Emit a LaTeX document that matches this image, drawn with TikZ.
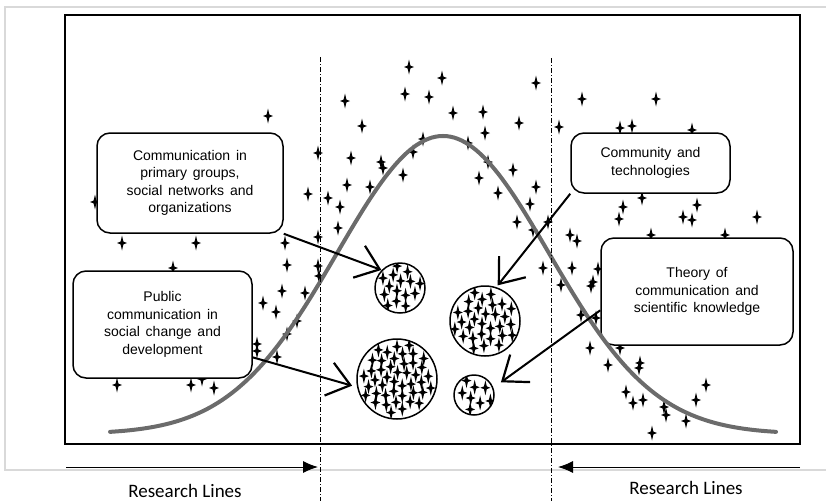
\documentclass[tikz,border=0pt]{standalone}
\usepackage{fontspec}
\usepackage{tikz}
\usetikzlibrary{arrows.meta,positioning}
\newfontfamily\boxfont{Liberation Sans}[WordSpace={1.5}]
\newfontfamily\linefont{Carlito}

\begin{document}
\begin{tikzpicture}[
    x=1pt, y=-1pt,
    topic/.style={rectangle, rounded corners=13pt, draw, line width=1.5pt, fill=white, align=center, font=\boxfont\fontsize{14}{17.5}\selectfont},
    grp/.style={circle, draw, line width=1.5pt, inner sep=0pt, outer sep=0pt},
    barb/.style={-{Straight Barb[length=22pt,width=34pt,line width=2.2pt]}, line width=2pt},
    lineaxis/.style={-{Latex[length=15pt,width=12pt]}, line width=1pt},
    divider/.style={line width=0.8pt, dash pattern=on 5pt off 2pt on 1pt off 2pt},
    spark/.pic={\fill (0,-7.5) -- (1.4,-1.4) -- (5,0) -- (1.4,1.4) -- (0,7.5) -- (-1.4,1.4) -- (-5,0) -- (-1.4,-1.4) -- cycle;}
]
\useasboundingbox (0,0) rectangle (826,501);

% Frames
\draw[black!15, line width=1.5pt] (5,7) rectangle (840,470);
\draw[line width=2pt] (65,15) rectangle (800,444);

% Scattered stars
\foreach \p in {(95,202),(122,243),(196,243),(285,243),(268,116),(117,385),(191,385),(202,379),(214,388),(173,268),
    (318,153),(308,194),(318,237),(287,265),(318,266),(319,276),(282,291),(305,293),(263,303),(276,312),
    (297,321),(287,334),(257,344),(257,351),(277,357),(338,228),
    (345,101),(362,126),(409,67),(405,94),(442,78),(429,97),(453,113),(483,112),(536,83),(519,123),
    (485,133),(423,139),(468,143),(413,152),(351,158),(381,162),(383,168),(403,175),(347,185),(370,187),
    (328,198),(340,207),(488,162),(513,170),(479,178),(536,187),(498,193),(530,204),(517,222),(533,230),(543,268),
    (559,127),(582,99),(656,99),(632,126),(620,128),(692,130),(548,222),(570,235),(577,241),(623,207),
    (619,219),(642,198),(697,205),(683,217),(692,220),(757,217),(651,235),(725,235),(572,268),(598,269),
    (561,285),(593,282),(591,286),(581,315),(596,318),(590,348),(620,348),(608,365),(640,363),(639,368),
    (626,392),(633,403),(643,400),(664,407),(666,415),(686,421),(696,400),(706,385),(652,433)}
    \pic at \p {spark};

% Research topics
\node[topic, minimum width=186pt, minimum height=100pt] (prim) at (190,183)
    {Communication in\\primary groups,\\social networks and\\organizations};
\node[topic, minimum width=179pt, minimum height=107pt] (pub) at (162.5,324.5)
    {Public\\communication in\\social change and\\development};
\node[topic, minimum width=159pt, minimum height=60pt] (comt) at (650.5,163)
    {Community and\\technologies};
\node[topic, minimum width=192pt, minimum height=107pt] (theo) at (697,291.5)
    {Theory of\\communication and\\scientific knowledge};

% Bell curve
\draw[black!58, line width=4pt, line cap=round] plot[domain=110:776, samples=90, smooth]
    (\x, {434-298*exp(-0.5*((\x-443)/106)^2)});

% Groups of stars
\foreach \nm/\cx/\cy/\r/\n in {grpA/400/288/25/15, grpB/485/321/35/30, grpC/397/379/40/44, grpD/474/395/20/8} {
    \begin{scope}
        \clip (\cx,\cy) circle (\r pt);
        \foreach \i in {1,...,\n} {
            \pgfmathsetmacro\rr{0.9*\r*sqrt((\i-0.5)/\n)}
            \pgfmathsetmacro\px{\cx+\rr*cos(\i*137.5)}
            \pgfmathsetmacro\py{\cy+\rr*sin(\i*137.5)}
            \pic at (\px,\py) {spark};
        }
    \end{scope}
    \node[grp, minimum size={2*\r pt}] (\nm) at (\cx,\cy) {};
}

% Arrows
\draw[barb, shorten >=1pt] (prim.south east) -- (grpA.135);
\draw[barb, shorten >=6pt] (pub.-20) -- (grpC.192);
\draw[barb, shorten >=3pt] (comt.south west) -- (grpB.72);
\draw[barb, shorten >=10pt] (theo.191) -- (grpD.20);

% Dividers
\coordinate (ltop) at (320,57);
\coordinate (lbot) at (320,501);
\coordinate (rtop) at (551,58);
\coordinate (rbot) at (551,501);
\draw[divider] (ltop) -- (lbot);
\draw[divider] (rtop) -- (rbot);

% Research lines
\coordinate (lfrom) at (66,467);
\coordinate (lto) at (318,467);
\coordinate (rfrom) at (800,467);
\coordinate (rto) at (558,467);
\draw[lineaxis] (lfrom) -- (lto);
\draw[lineaxis] (rfrom) -- (rto);
\node[font=\linefont\fontsize{19}{22}\selectfont] (lline) at (185,491) {Research Lines};
\node[font=\linefont\fontsize{19}{22}\selectfont] (rline) at (686,488) {Research Lines};

\end{tikzpicture}
\end{document}
